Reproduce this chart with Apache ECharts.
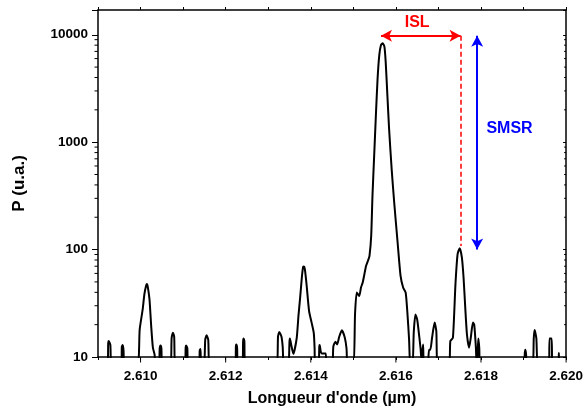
<!DOCTYPE html>
<html><head><meta charset="utf-8">
<script src="https://cdn.jsdelivr.net/npm/echarts@6/dist/echarts.min.js"></script>
<style>html,body{margin:0;padding:0;background:#fff}#c{width:586px;height:414px}</style>
</head><body><div id="c"></div>
<script>
// ---- data ----
const wavelength = [
2.609,2.60922,2.60924,2.60925,2.60929,2.60932,2.60955,2.60956,2.60958,2.60960,2.60962,
2.60992,2.60998,2.61005,2.61009,2.61013,2.61015,2.61017,2.61021,2.61025,2.61029,2.61033,2.61035,
2.61043,2.61045,2.61047,2.61049,2.61051,2.61070,2.61073,2.61076,2.61079,2.61082,
2.61104,2.61106,2.61107,2.61110,2.61111,2.61138,2.61139,2.61141,2.61142,
2.61149,2.61152,2.61155,2.61159,2.61163,2.61223,2.61224,2.61225,2.61227,2.61228,
2.61239,2.61241,2.61242,2.61244,2.61245,2.61320,2.61323,2.61326,2.61331,2.61334,2.61337,
2.61347,2.61350,2.61351,2.61354,2.61359,2.61367,2.61371,2.61375,2.61379,2.61382,2.61384,2.61386,
2.61390,2.61396,2.61402,2.61407,2.61409,2.61410,2.61418,2.61420,2.61421,2.61423,2.61425,2.61435,2.61437,
2.61450,2.61453,2.61458,2.61462,2.61467,2.61473,2.61480,2.61484,2.61487,
2.61500,2.61504,2.61508,2.61514,2.61518,2.61522,2.61526,2.61530,2.61535,2.61538,2.61542,2.61545,
2.61549,2.61553,2.61557,2.61561,2.61565,2.61569,2.61573,2.61576,2.61580,2.61584,2.61590,2.61596,
2.61604,2.61611,2.61617,2.61623,2.61627,2.61631,2.61634,
2.61639,2.61642,2.61646,2.61650,2.61653,2.61658,2.61660,2.61664,2.61666,
2.61674,2.61678,2.61681,2.61685,2.61691,2.61695,2.61699,
2.61724,2.61728,2.61734,2.61740,2.61745,2.61750,2.61755,2.61759,2.61763,2.61767,2.61772,2.61776,
2.61781,2.61784,2.61788,2.61790,2.61793,2.61794,2.61796,2.61798,
2.61900,2.61903,2.61904,2.61906,2.61907,2.61921,2.61924,2.61926,2.61930,2.61935,
2.61960,2.61961,2.61966,2.61968,2.61981,2.61983,2.61984,2.620
];
const power = [
8,8,13.5,14.1,13,8,8,12.5,12.9,11.5,8,
8,18.1,27.8,38.4,46,47.7,45,34.4,19.4,12.2,10.5,8,
8,12,12.8,12,8,8,15,16.8,15.5,8,
8,12.3,12.8,12,8,8,11.5,11.9,8,
8,14.5,15.9,14.5,8,8,12.5,13.1,12,8,
8,14,14.9,14,8,8,15.5,17.1,15.5,12.5,8,
8,14,14.9,13,10.7,15.1,24,35.7,55,69,69.5,66,
47.7,26.8,20.9,16.8,12,8,8,12.5,12.9,11.5,10.8,10.8,8,
8,12.5,13.9,13.1,15.5,17.7,15.1,12,8,
8,25,39.8,37,44.4,49.3,59,70.6,80,87.5,134.6,318,
753,1780,3920,6470,8030,8340,7760,5620,2740,1337,565,276,
117,56.9,44.4,39.8,25.9,14.6,8,
8,17,24.9,22.4,18.1,12,9.5,13.1,8,
8,11.7,11.7,15.1,20.9,17.4,8,
8,14.1,15.1,47.7,90.8,103,84.5,55,28.8,16.2,12.2,15.1,
20.9,20.1,12.2,8,13,14.9,12,8,
8,11,11.7,10.5,8,8,15,17.8,15,8,
8,14.9,14.9,8,8,10.9,8,8
];
const xTickLabels = ['2.610','2.612','2.614','2.616','2.618','2.620'];
const yTickLabels = ['10','100','1000','10000'];
const yMinorTicks = [20,30,40,50,60,70,80,90,200,300,400,500,600,700,800,900,2000,3000,4000,5000,6000,7000,8000,9000];
const xRange = [2.609, 2.620];
const yRange = [10, 17000];
// annotations
const islArrow = [[2.61565, 9800], [2.61752, 9800]];
const islDashed = [[2.61752, 9800], [2.61752, 108]];
const smsrArrow = [[2.61791, 9800], [2.61791, 100]];
const islLabel = ['ISL', 2.61650, 13000];
const smsrLabel = ['SMSR', 2.61867, 1340];

// ---- chart ----
const FONT = 'Liberation Sans, Arial, sans-serif';
const chart = echarts.init(document.getElementById('c'));
const lineData = wavelength.map((x, i) => [x, power[i]]);
const isDecade = v => yTickLabels.indexOf(String(Math.round(v))) >= 0 && Math.abs(Math.log10(v) - Math.round(Math.log10(v))) < 1e-6;

chart.setOption({
  animation: false,
  backgroundColor: '#fff',
  grid: { left: 98, right: 15, top: 10, bottom: 57, containLabel: false },
  xAxis: [{
    type: 'value', min: xRange[0], max: xRange[1], interval: 0.001,
    name: "Longueur d'onde (µm)", nameLocation: 'middle', nameGap: 34,
    nameTextStyle: { fontFamily: FONT, fontWeight: 'bold', fontSize: 16, color: '#000' },
    axisLine: { show: true, onZero: false, lineStyle: { color: '#000', width: 1.5 } },
    axisTick: { show: true, inside: false, length: 3, lineStyle: { color: '#000', width: 1 } },
    splitLine: { show: false },
    axisLabel: { fontFamily: FONT, fontWeight: 'bold', fontSize: 13.5, color: '#000', margin: 12, showMinLabel: true, showMaxLabel: true,
      formatter: v => { const s = v.toFixed(3); return xTickLabels.indexOf(s) >= 0 ? s : ''; } }
  }, {
    type: 'value', position: 'top', min: xRange[0], max: xRange[1], interval: 0.001,
    axisLine: { show: true, onZero: false, lineStyle: { color: '#000', width: 1.5 } },
    axisTick: { show: true, inside: false, length: 3, lineStyle: { color: '#000', width: 1 } },
    axisLabel: { show: false }, splitLine: { show: false }
  }],
  yAxis: [{
    type: 'log', logBase: 10, min: yRange[0], max: yRange[1],
    name: 'P (u.a.)', nameLocation: 'middle', nameGap: 70,
    nameTextStyle: { fontFamily: FONT, fontWeight: 'bold', fontSize: 17, color: '#000' },
    axisLine: { show: true, onZero: false, lineStyle: { color: '#000', width: 1.5 } },
    axisTick: { show: true, inside: false, length: 6, lineStyle: { color: '#000', width: 1 } },
    splitLine: { show: false },
    axisLabel: { fontFamily: FONT, fontWeight: 'bold', fontSize: 13.5, color: '#000', margin: 10,
      formatter: v => isDecade(v) ? String(Math.round(v)) : '' }
  }, {
    type: 'log', logBase: 10, min: yRange[0], max: yRange[1], position: 'right',
    axisLine: { show: true, onZero: false, lineStyle: { color: '#000', width: 1.5 } },
    axisTick: { show: true, inside: true, length: 3, lineStyle: { color: '#000', width: 1 } },
    axisLabel: { show: false }, splitLine: { show: false }
  }],
  series: [{
    type: 'line', data: lineData, xAxisIndex: 0, yAxisIndex: 0,
    showSymbol: false, symbol: 'none', smooth: 0.2, clip: true,
    lineStyle: { color: '#000', width: 2 },
    markLine: {
      silent: true, animation: false, label: { show: false },
      data: [
        [{ coord: islArrow[0], symbol: 'arrow', symbolSize: [9, 11], lineStyle: { color: '#ff0000', width: 2, type: 'solid' } },
         { coord: islArrow[1], symbol: 'arrow', symbolSize: [9, 11] }],
        [{ coord: islDashed[0], symbol: 'none', lineStyle: { color: '#ff0000', width: 1.5, type: [5, 3] } },
         { coord: islDashed[1], symbol: 'none' }],
        [{ coord: smsrArrow[0], symbol: 'arrow', symbolSize: [9, 11], lineStyle: { color: '#0000ff', width: 2, type: 'solid' } },
         { coord: smsrArrow[1], symbol: 'arrow', symbolSize: [9, 11] }]
      ]
    },
    markPoint: {
      silent: true, animation: false, symbolSize: 0,
      data: [
        { coord: [islLabel[1], islLabel[2]], label: { show: true, position: 'inside', formatter: islLabel[0], color: '#ff0000', fontFamily: FONT, fontWeight: 'bold', fontSize: 16 } },
        { coord: [smsrLabel[1], smsrLabel[2]], label: { show: true, position: 'inside', formatter: smsrLabel[0], color: '#0000ff', fontFamily: FONT, fontWeight: 'bold', fontSize: 16 } }
      ]
    }
  }, {
    // minor ticks of the log axes (2..9 per decade)
    type: 'custom', xAxisIndex: 0, yAxisIndex: 0, silent: true, clip: false,
    data: yMinorTicks.map(v => [xRange[0], v]),
    renderItem: (params, api) => {
      const v = api.value(1);
      const pl = api.coord([xRange[0], v]);
      const pr = api.coord([xRange[1], v]);
      const st = { stroke: '#000', lineWidth: 1 };
      return { type: 'group', children: [
        { type: 'line', shape: { x1: pl[0] - 3.5, y1: pl[1], x2: pl[0], y2: pl[1] }, style: st },
        { type: 'line', shape: { x1: pr[0] - 2, y1: pr[1], x2: pr[0], y2: pr[1] }, style: st }
      ]};
    }
  }, {
    // longer major ticks at the labelled wavelengths
    type: 'custom', xAxisIndex: 0, yAxisIndex: 0, silent: true, clip: false,
    data: xTickLabels.map(s => [parseFloat(s), yRange[0]]),
    renderItem: (params, api) => {
      const p = api.coord([api.value(0), yRange[0]]);
      return { type: 'line', shape: { x1: p[0], y1: p[1], x2: p[0], y2: p[1] + 5.5 }, style: { stroke: '#000', lineWidth: 1 } };
    }
  }]
});
</script></body></html>
